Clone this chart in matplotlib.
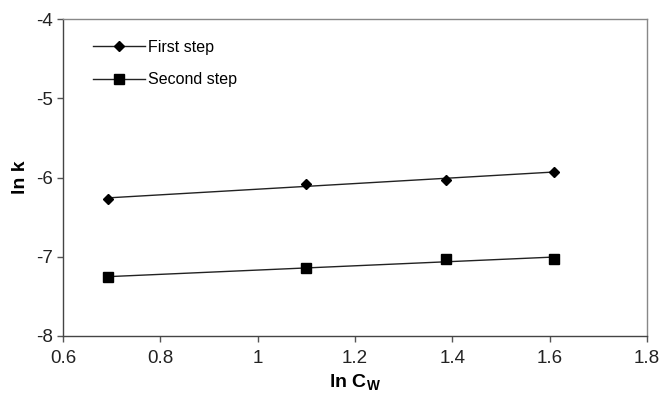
import numpy as np
import matplotlib
matplotlib.use("Agg")
import matplotlib.pyplot as plt
from matplotlib.lines import Line2D

plt.rcParams["font.family"] = ["Liberation Sans", "DejaVu Sans"]
plt.rcParams["axes.unicode_minus"] = False
plt.rcParams["mathtext.fontset"] = "custom"
plt.rcParams["mathtext.rm"] = "Liberation Sans:bold"
plt.rcParams["mathtext.default"] = "rm"

ln_cw = [0.693, 1.099, 1.386, 1.609]
first_step = [-6.27, -6.08, -6.03, -5.93]
second_step = [-7.26, -7.14, -7.03, -7.03]

fig = plt.figure(figsize=(6.72, 3.97), dpi=100)
ax = fig.add_axes([63 / 672, 1 - 336 / 397, 584 / 672, 317 / 397])

handles = []
for y, marker, ms, label in [(first_step, "D", 5, "First step"),
                             (second_step, "s", 7, "Second step")]:
    slope, icpt = np.polyfit(ln_cw, y, 1)
    xs = np.array([ln_cw[0], ln_cw[-1]])
    ax.plot(xs, slope * xs + icpt, color="#222222", lw=1.0)
    ax.plot(ln_cw, y, linestyle="none", marker=marker, ms=ms, color="black")
    handles.append(Line2D([], [], color="#222222", lw=1.0, marker=marker,
                          ms=ms, markerfacecolor="black",
                          markeredgecolor="black", label=label))

ax.set_xlim(0.6, 1.8)
ax.set_ylim(-8, -4)
ax.set_xticks([0.6, 0.8, 1, 1.2, 1.4, 1.6, 1.8])
ax.set_xticklabels(["0.6", "0.8", "1", "1.2", "1.4", "1.6", "1.8"])
ax.set_yticks([-8, -7, -6, -5, -4])
ax.tick_params(direction="out", length=4, width=1, color="#555555",
               labelsize=13.5, labelcolor="#222222", pad=3,
               top=False, right=False)
ax.tick_params(axis="x", pad=6)

for name, side in ax.spines.items():
    side.set_color("#444444" if name in ("left", "bottom") else "#888888")
    side.set_linewidth(1.0)

ax.set_xlabel(r"ln C$_{W}$", fontsize=14, fontweight="bold", labelpad=4)
ax.set_ylabel("ln k", fontsize=14, fontweight="bold", labelpad=5)

ax.legend(handles=handles, loc="upper left", frameon=False, fontsize=11.5,
          handlelength=3.3, handletextpad=0.2, labelspacing=1.1,
          bbox_to_anchor=(0.026, 0.98))

fig.savefig("out.png", dpi=100)
